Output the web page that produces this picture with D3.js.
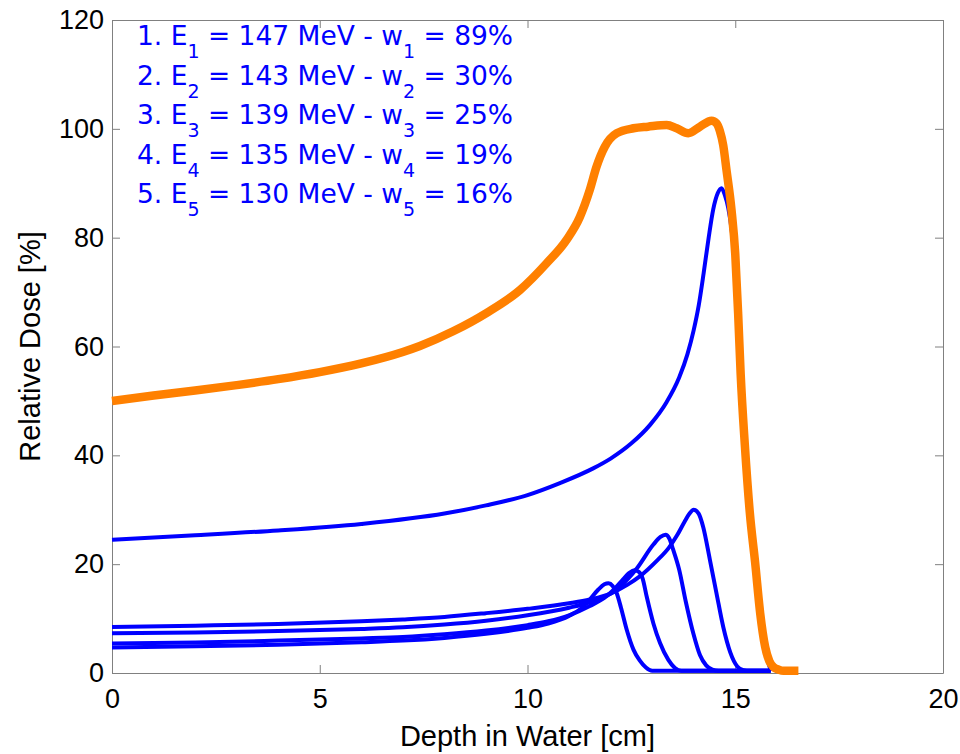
<!DOCTYPE html>
<meta charset="utf-8">
<title>Relative dose vs depth</title>
<style>
  body { margin: 0; background: #fff; }
  .axis text { font: 27px "Liberation Sans", Arial, sans-serif; fill: #000; }
  .axis path, .axis line { stroke: #808080; stroke-width: 1px; }
  .label { font: 29px "Liberation Sans", Arial, sans-serif; fill: #000; }
  .legend { font: 26.5px "DejaVu Sans", Tahoma, sans-serif; fill: #0000ff; }
</style>
<body>
<div id="chart"></div>
<script src="https://cdnjs.cloudflare.com/ajax/libs/d3/7.8.5/d3.min.js"></script>
<script>

// tick values
var xTicks = [0, 5, 10, 15, 20];
var yTicks = [0, 20, 40, 60, 80, 100, 120];

// legend values
var energies = [147, 143, 139, 135, 130];
var weights = [89, 30, 25, 19, 16];

// total dose (orange)
var depthSum = [0,1,2,3,4,5,6,7,7.41,8.21,9.02,9.82,10.46,10.94,11.26,11.5,11.66,11.86,12.15,12.55,12.9,13.35,13.59,13.87,14.15,14.43,14.55,14.63,14.71,14.79,14.91,15.0,15.07,15.13,15.23,15.35,15.48,15.6,15.72,15.82,15.92,16.05,16.16,16.52];
var doseSum  = [50,51,51.9,52.9,54,55.3,56.9,59.0,60.1,62.8,66.2,70.4,75.3,79.6,83.8,88.8,93.0,96.7,99.2,100.1,100.4,100.7,100.1,99.2,100.4,101.5,101.0,99.6,97.0,92.4,85.1,77,66,55,42,29.5,20.2,11.0,4.8,2.2,1.1,0.6,0.4,0.4];

// weighted single peaks (blue)
var depth1 = [0,2,4,6,8,9,10,10.78,11.58,12.0,12.5,12.95,13.35,13.65,13.85,14.0,14.12,14.24,14.36,14.47,14.58,14.67,14.75,14.83,14.92,15.0,15.06,15.12,15.21,15.34,15.47,15.59,15.7,15.8,15.86];
var dose1  = [24.5,25.3,26.2,27.4,29.3,30.8,32.7,34.9,37.6,39.4,42.2,45.6,49.8,54.3,58.6,63,67.5,73.5,80,85.2,88.2,89.1,87.8,85.5,81,74.5,66,56,43,30,20,11.5,5.5,1.8,0.4];

var depth2 = [0,2,4,6,7,8,9,10,11,11.5,12,12.4,12.71,13.11,13.4,13.6,13.78,13.9,14.0,14.12,14.23,14.39,14.55,14.71,14.88,15.05,15.2,15.35,15.85];
var dose2  = [8.45,8.7,9.0,9.5,9.85,10.3,11.0,11.8,12.8,13.5,14.6,16.2,17.8,20.6,23.0,25.3,27.8,29.3,30.0,29.3,26.8,20.8,14.6,8.5,3.8,1.2,0.5,0.4,0.4];

var depth3 = [0,2,4,6,7,8,9,10,11,11.5,12,12.23,12.63,13.03,13.2,13.32,13.42,13.5,13.65,13.81,13.99,14.15,14.3,14.45,14.6,15.85];
var dose3  = [7.3,7.45,7.7,8.1,8.4,8.9,9.6,10.6,12.0,13.0,14.6,15.9,19.2,23.6,25.0,25.4,24.6,22.8,19.0,13.1,7.3,3.3,1.4,0.6,0.4,0.4];

var depth4 = [0,2,4,6,7,8,9,10,10.5,11,11.5,11.9,12.1,12.3,12.45,12.57,12.68,12.77,12.87,13.03,13.19,13.39,13.55,13.7,15.85];
var dose4  = [5.4,5.6,5.95,6.35,6.6,7.1,7.8,8.8,9.5,10.6,12.3,14.1,15.5,17.2,18.4,18.9,18.6,17.4,14.0,9.1,5.5,2.4,0.9,0.4,0.4];

var depth5 = [0,2,4,6,7,8,9,10,10.5,11,11.3,11.5,11.7,11.85,11.95,12.05,12.15,12.25,12.39,12.55,12.7,12.85,13.0,15.85];
var dose5  = [4.7,4.9,5.2,5.65,5.95,6.45,7.2,8.3,9.1,10.5,11.9,13.5,15.3,16.3,16.5,16.0,14.6,12.0,7.9,4.3,2.3,1.0,0.4,0.4];

// set the dimensions and margins of the graph
var margin = {top: 20, right: 17, bottom: 81, left: 112},
    width = 960 - margin.left - margin.right,
    height = 754 - margin.top - margin.bottom;

var svg = d3.select("#chart")
  .append("svg")
    .attr("width", 960)
    .attr("height", 754)
  .append("g")
    .attr("transform", "translate(" + margin.left + "," + margin.top + ")");

var x = d3.scaleLinear().domain([0, 20]).range([0, width]);
var y = d3.scaleLinear().domain([0, 120]).range([height, 0]);

// box with inward ticks on all four sides
svg.append("g")
    .attr("class", "axis")
    .attr("transform", "translate(0," + height + ")")
    .call(d3.axisBottom(x).tickValues(xTicks).tickSizeInner(-8).tickSizeOuter(0).tickPadding(16));
svg.append("g")
    .attr("class", "axis")
    .call(d3.axisLeft(y).tickValues(yTicks).tickSizeInner(-8).tickSizeOuter(0).tickPadding(8));
svg.append("g")
    .attr("class", "axis")
    .call(d3.axisTop(x).tickValues(xTicks).tickSizeInner(-8).tickSizeOuter(0).tickFormat(""));
svg.append("g")
    .attr("class", "axis")
    .attr("transform", "translate(" + width + ",0)")
    .call(d3.axisRight(y).tickValues(yTicks).tickSizeInner(-8).tickSizeOuter(0).tickFormat(""));

// lines
var line = d3.line()
    .x(function(d) { return x(d[0]); })
    .y(function(d) { return y(d[1]); })
    .curve(d3.curveMonotoneX);

function pairs(xs, ys) { return d3.zip(xs, ys); }

var peaks = [pairs(depth5, dose5), pairs(depth4, dose4), pairs(depth3, dose3), pairs(depth2, dose2), pairs(depth1, dose1)];

svg.selectAll(".peak")
  .data(peaks).enter().append("path")
    .attr("class", "peak")
    .attr("d", line)
    .attr("fill", "none")
    .attr("stroke", "#0000ff")
    .attr("stroke-width", 4)
    .attr("stroke-linejoin", "round");

svg.append("path")
    .datum(pairs(depthSum, doseSum))
    .attr("d", line)
    .attr("fill", "none")
    .attr("stroke", "#ff8000")
    .attr("stroke-width", 8.5)
    .attr("stroke-linejoin", "round");

// legend text
var legend = svg.selectAll(".legend")
  .data(energies).enter().append("text")
    .attr("class", "legend")
    .attr("x", 137 - margin.left)
    .attr("y", function(d, i) { return 45 - margin.top + i * 39.6; });

legend.each(function(d, i) {
  var t = d3.select(this);
  var n = i + 1;
  t.append("tspan").text(n + ". E");
  t.append("tspan").attr("dy", 13).style("font-size", "19px").text(n);
  t.append("tspan").attr("dy", -13).text(" = " + d + " MeV - w");
  t.append("tspan").attr("dy", 13).style("font-size", "19px").text(n);
  t.append("tspan").attr("dy", -13).text(" = " + weights[i] + "%");
});

// axis labels
svg.append("text")
    .attr("class", "label")
    .attr("x", width / 2)
    .attr("y", 746 - margin.top)
    .style("text-anchor", "middle")
    .text("Depth in Water [cm]");

svg.append("text")
    .attr("class", "label")
    .attr("transform", "translate(" + (40 - margin.left) + "," + (height / 2) + ") rotate(-90)")
    .style("text-anchor", "middle")
    .text("Relative Dose [%]");

</script>
</body>
